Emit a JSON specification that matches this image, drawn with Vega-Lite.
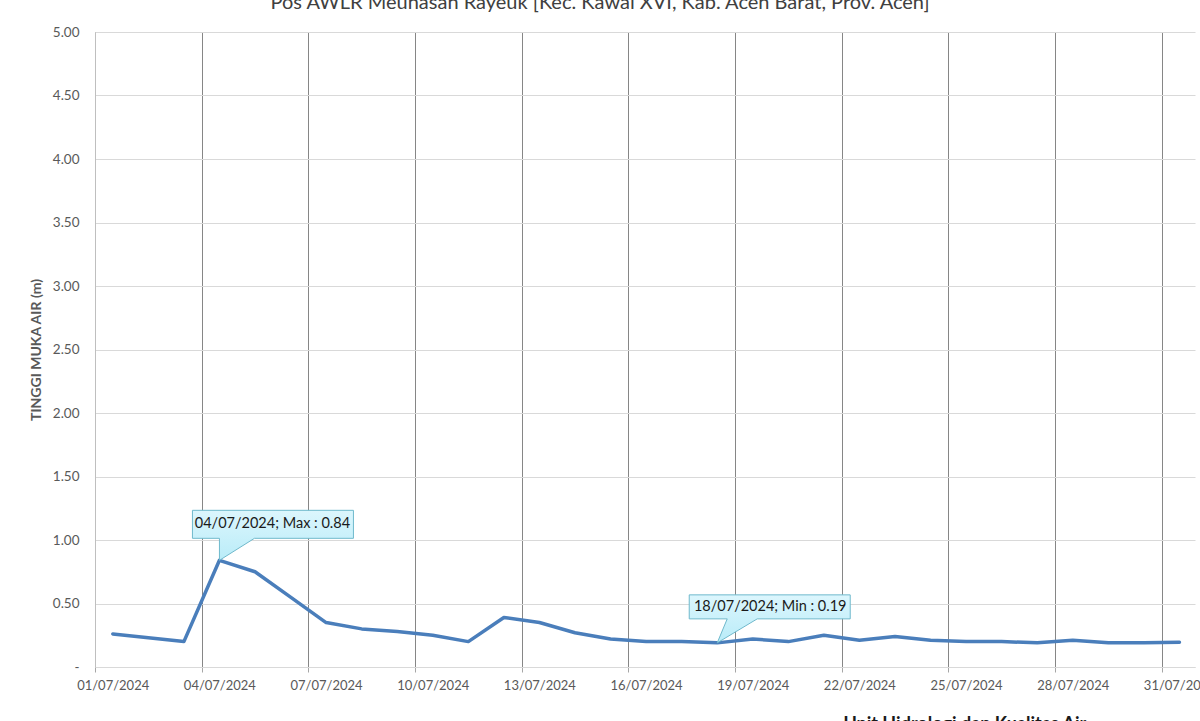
{
  "$schema": "https://vega.github.io/schema/vega-lite/v6.json",
  "width": 1100,
  "height": 635,
  "autosize": {"type": "none"},
  "padding": {"left": 95, "top": 32, "right": 5, "bottom": 54},
  "background": "white",
  "config": {
    "view": {"stroke": null},
    "font": "Lato"
  },
  "title": {
    "text": "Pos AWLR Meunasan Rayeuk [Kec. Kawai XVI, Kab. Aceh Barat, Prov. Aceh]",
    "anchor": "middle",
    "frame": "group",
    "dx": -45,
    "offset": -4,
    "baseline": "alphabetic",
    "font": "Lato",
    "fontSize": 20,
    "fontWeight": "normal",
    "color": "#404040"
  },
  "datasets": {
    "levels": [
      {"date": "2024-07-01T12:00:00", "value": 0.26},
      {"date": "2024-07-03T12:00:00", "value": 0.20},
      {"date": "2024-07-04T12:00:00", "value": 0.84},
      {"date": "2024-07-05T12:00:00", "value": 0.75},
      {"date": "2024-07-06T12:00:00", "value": 0.55},
      {"date": "2024-07-07T12:00:00", "value": 0.35},
      {"date": "2024-07-08T12:00:00", "value": 0.30},
      {"date": "2024-07-09T12:00:00", "value": 0.28},
      {"date": "2024-07-10T12:00:00", "value": 0.25},
      {"date": "2024-07-11T12:00:00", "value": 0.20},
      {"date": "2024-07-12T12:00:00", "value": 0.39},
      {"date": "2024-07-13T12:00:00", "value": 0.35},
      {"date": "2024-07-14T12:00:00", "value": 0.27},
      {"date": "2024-07-15T12:00:00", "value": 0.22},
      {"date": "2024-07-16T12:00:00", "value": 0.20},
      {"date": "2024-07-17T12:00:00", "value": 0.20},
      {"date": "2024-07-18T12:00:00", "value": 0.19},
      {"date": "2024-07-19T12:00:00", "value": 0.22},
      {"date": "2024-07-20T12:00:00", "value": 0.20},
      {"date": "2024-07-21T12:00:00", "value": 0.25},
      {"date": "2024-07-22T12:00:00", "value": 0.21},
      {"date": "2024-07-23T12:00:00", "value": 0.24},
      {"date": "2024-07-24T12:00:00", "value": 0.21},
      {"date": "2024-07-25T12:00:00", "value": 0.20},
      {"date": "2024-07-26T12:00:00", "value": 0.20},
      {"date": "2024-07-27T12:00:00", "value": 0.19},
      {"date": "2024-07-28T12:00:00", "value": 0.21},
      {"date": "2024-07-29T12:00:00", "value": 0.19},
      {"date": "2024-07-30T12:00:00", "value": 0.19},
      {"date": "2024-07-31T12:00:00", "value": 0.195}
    ],
    "notes": [
      {"date": "2024-07-04T12:00:00", "value": 0.84, "label": "04/07/2024; Max : 0.84", "kind": "max"},
      {"date": "2024-07-18T12:00:00", "value": 0.19, "label": "18/07/2024; Min : 0.19", "kind": "min"}
    ]
  },
  "encoding": {
    "x": {
      "field": "date",
      "type": "temporal",
      "scale": {
        "domain": [
          {"year": 2024, "month": 7, "date": 1},
          {"year": 2024, "month": 7, "date": 31, "hours": 22, "minutes": 30}
        ]
      },
      "axis": {
        "title": "Unit Hidrologi dan Kualitas Air",
        "titleX": 748,
        "titleY": 48,
        "titleAlign": "left",
        "titleBaseline": "top",
        "titleAnchor": null,
        "titleFont": "Lato",
        "titleFontSize": 18,
        "titleFontWeight": "bold",
        "titleColor": "#1a1a1a",
        "values": [
          {"year": 2024, "month": 7, "date": 1},
          {"year": 2024, "month": 7, "date": 4},
          {"year": 2024, "month": 7, "date": 7},
          {"year": 2024, "month": 7, "date": 10},
          {"year": 2024, "month": 7, "date": 13},
          {"year": 2024, "month": 7, "date": 16},
          {"year": 2024, "month": 7, "date": 19},
          {"year": 2024, "month": 7, "date": 22},
          {"year": 2024, "month": 7, "date": 25},
          {"year": 2024, "month": 7, "date": 28},
          {"year": 2024, "month": 7, "date": 31}
        ],
        "format": "%d/%m/%Y",
        "labelOffset": 17.7,
        "labelFont": "Lato",
        "labelFontSize": 13,
        "labelColor": "#595959",
        "labelPadding": 7,
        "labelFlush": false,
        "labelOverlap": false,
        "grid": true,
        "gridColor": "#868686",
        "gridWidth": 1,
        "ticks": true,
        "tickSize": 5,
        "tickColor": "#a6a6a6",
        "domainColor": "#d9d9d9",
        "domainWidth": 1
      }
    },
    "y": {
      "field": "value",
      "type": "quantitative",
      "scale": {"domain": [0, 5], "nice": false, "zero": true},
      "axis": {
        "title": "TINGGI MUKA AIR (m)",
        "titleFont": "Lato",
        "titleFontSize": 14,
        "titleFontWeight": "bold",
        "titleColor": "#595959",
        "titlePadding": 9,
        "values": [0, 0.5, 1, 1.5, 2, 2.5, 3, 3.5, 4, 4.5, 5],
        "labelExpr": "datum.value == 0 ? '-' : format(datum.value, '.2f')",
        "labelFont": "Lato",
        "labelFontSize": 13.5,
        "labelColor": "#595959",
        "labelPadding": 16,
        "ticks": false,
        "grid": true,
        "gridColor": "#d9d9d9",
        "gridWidth": 1,
        "domainColor": "#bfbfbf",
        "domainWidth": 1
      }
    }
  },
  "layer": [
    {
      "data": {"name": "levels"},
      "mark": {"type": "line", "color": "#4a7ebb", "strokeWidth": 3.5, "strokeJoin": "round", "strokeCap": "round"}
    },
    {
      "data": {"name": "notes"},
      "transform": [{"filter": "datum.kind == 'max'"}],
      "mark": {
        "type": "point",
        "shape": "M0,0 L0,-22 L-27,-22 L-27,-50 L134,-50 L134,-22 L35,-22 Z",
        "size": 4,
        "filled": true,
        "opacity": 1,
        "fill": {"gradient": "linear", "x1": 0, "y1": 0, "x2": 0, "y2": 1, "stops": [{"offset": 0, "color": "#dcf6fd"}, {"offset": 1, "color": "#b9ecf8"}]},
        "stroke": "#6fb9cc",
        "strokeWidth": 1
      }
    },
    {
      "data": {"name": "notes"},
      "transform": [{"filter": "datum.kind == 'min'"}],
      "mark": {
        "type": "point",
        "shape": "M0,0 L10,-24 L-28,-24 L-28,-48 L133,-48 L133,-24 L40,-24 Z",
        "size": 4,
        "filled": true,
        "opacity": 1,
        "fill": {"gradient": "linear", "x1": 0, "y1": 0, "x2": 0, "y2": 1, "stops": [{"offset": 0, "color": "#dcf6fd"}, {"offset": 1, "color": "#b9ecf8"}]},
        "stroke": "#6fb9cc",
        "strokeWidth": 1
      }
    },
    {
      "data": {"name": "notes"},
      "mark": {"type": "text", "dx": 53, "dy": -36, "align": "center", "baseline": "middle", "font": "Lato", "fontSize": 14.5, "color": "#1a1a1a"},
      "encoding": {"text": {"field": "label"}}
    }
  ]
}
